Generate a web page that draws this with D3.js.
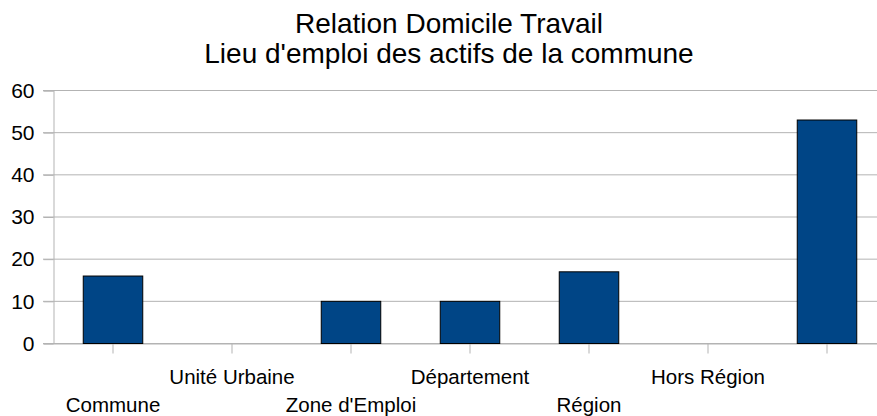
<!DOCTYPE html>
<html lang="fr">
<head>
    <meta charset="UTF-8">
    <title>Relation Domicile Travail</title>
    <style>
        body, html {
            margin: 0;
            padding: 0;
            background-color: #fff;
            font-family: "Liberation Sans", Arial, sans-serif;
        }
        svg { display: block; }
    </style>
</head>
<body>
    <svg id="svg" width="877" height="416"></svg>
    <script src="https://d3js.org/d3.v7.min.js"></script>
    <script>
        // data
        const categories = ["Commune", "Unité Urbaine", "Zone d'Emploi", "Département", "Région", "Hors Région", ""]
        const values = [16, 0, 10, 10, 17, 0, 53]
        const yTicks = [0, 10, 20, 30, 40, 50, 60]
        const titleLines = ["Relation Domicile Travail", "Lieu d'emploi des actifs de la commune"]

        const margin = { top: 90, left: 53 }
        const plotHeight = 253
        const step = 119

        const svg = d3.select('#svg')

        // x scale
        const xscale = d3.scaleBand()
            .domain(categories)
            .range([margin.left, margin.left + step * categories.length])
            .paddingInner(0.5)
            .paddingOuter(0.25)

        // y scale
        const yscale = d3.scaleLinear()
            .domain([0, 60])
            .range([margin.top + plotHeight, margin.top])

        const plotRight = margin.left + step * categories.length

        // title
        svg.append('g')
            .selectAll('text')
            .data(titleLines)
            .enter()
            .append('text')
            .attr('x', 449)
            .attr('y', (d, i) => 33 + i * 30)
            .attr('text-anchor', 'middle')
            .attr('font-size', '28px')
            .attr('fill', '#000')
            .text(d => d)

        // grid lines
        svg.append('g')
            .selectAll('line')
            .data(yTicks)
            .enter()
            .append('line')
            .attr('x1', margin.left - 10)
            .attr('x2', plotRight)
            .attr('y1', d => yscale(d) + 0.5)
            .attr('y2', d => yscale(d) + 0.5)
            .attr('stroke', '#b3b3b3')

        // left axis
        const leftAxis = d3.axisLeft(yscale)
            .tickValues(yTicks)
            .tickSize(10)
            .tickPadding(9)
        const ya = svg.append('g')
            .attr('transform', `translate(${margin.left + 0.5}, 0.5)`)
            .call(leftAxis)
        ya.select('.domain').attr('stroke', '#b3b3b3')
        ya.selectAll('.tick line').attr('stroke', '#b3b3b3')
        ya.selectAll('text')
            .attr('font-size', '21px')
            .attr('font-family', '"Liberation Sans", Arial, sans-serif')
            .attr('fill', '#000')

        // bottom axis
        const bottomAxis = d3.axisBottom(xscale)
            .tickSize(10)
            .tickSizeOuter(0)
        const xa = svg.append('g')
            .attr('transform', `translate(0.5, ${margin.top + plotHeight + 0.5})`)
            .call(bottomAxis)
        xa.select('.domain').attr('stroke', '#b3b3b3')
        xa.selectAll('.tick line').attr('stroke', '#b3b3b3')
        xa.selectAll('text')
            .attr('font-size', '20.5px')
            .attr('font-family', '"Liberation Sans", Arial, sans-serif')
            .attr('fill', '#000')
            .attr('dy', null)
            .attr('y', (d, i) => i % 2 === 0 ? 68 : 40)

        // bars
        svg.append('g')
            .selectAll('rect')
            .data(values)
            .enter()
            .append('rect')
            .attr('x', (d, i) => xscale(categories[i]) + 0.5)
            .attr('y', d => yscale(d) + 0.5)
            .attr('width', xscale.bandwidth())
            .attr('height', d => yscale(0) - yscale(d))
            .attr('fill', '#004586')
            .attr('stroke', '#000')
            .attr('stroke-width', 1)
            .style('display', d => d === 0 ? 'none' : null)
    </script>
</body>
</html>
